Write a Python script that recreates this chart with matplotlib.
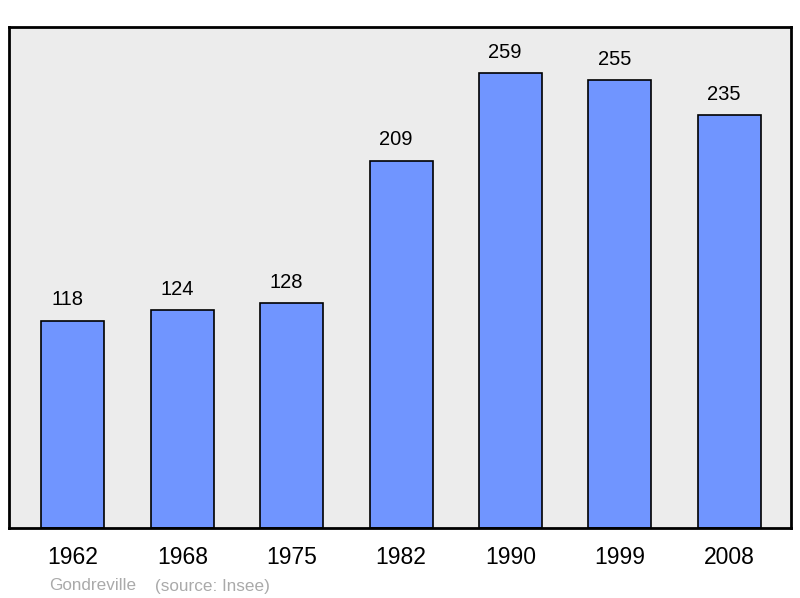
import matplotlib.pyplot as plt

years = ["1962", "1968", "1975", "1982", "1990", "1999", "2008"]
population = [118, 124, 128, 209, 259, 255, 235]

plt.rcParams['font.family'] = ['Liberation Sans', 'DejaVu Sans']

fig = plt.figure(figsize=(8, 5.98), dpi=100)
ax = fig.add_axes([9 / 800, 70 / 598, 782 / 800, 501 / 598])
ax.set_facecolor('#ececec')

x = range(len(years))
ax.bar(x, population, width=0.576, color='#7095ff', edgecolor='black', linewidth=1.2, zorder=2)
for xi, v in zip(x, population):
    ax.annotate(str(v), (xi, v), xytext=(-4, 8), textcoords='offset points',
                ha='center', va='bottom', fontsize=14.5)

ax.set_xlim(-0.585, 6.565)
ax.set_ylim(0, 285)
ax.set_yticks([])
ax.set_xticks(list(x))
ax.set_xticklabels(years, fontsize=16.5)
ax.tick_params(axis='x', length=0, pad=13)
for s in ax.spines.values():
    s.set_linewidth(2)

fig.text(49 / 800, 1 - 586 / 598, "Gondreville", color='#aaaaaa', fontsize=12.3, va='center')
fig.text(155 / 800, 1 - 586 / 598, "(source: Insee)", color='#aaaaaa', fontsize=12.3, va='center')

fig.savefig('out.png')
